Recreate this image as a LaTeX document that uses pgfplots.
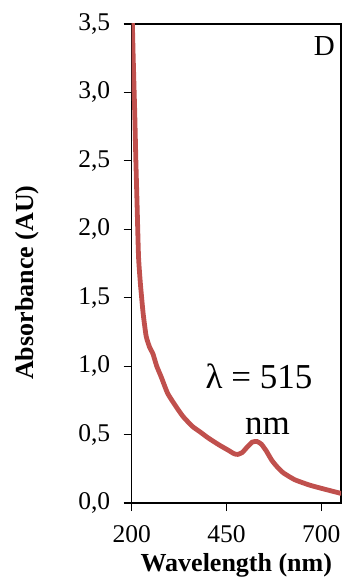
\documentclass[border=0pt]{standalone}
\usepackage{pgfplots}
\pgfplotsset{compat=1.18}
\usepackage{fontspec}
\setmainfont{Liberation Serif}
\definecolor{exred}{RGB}{192,80,77}
\begin{document}
\begin{tikzpicture}
\begin{axis}[
  scale only axis,
  width=209.3pt, height=479pt,
  xmin=200, xmax=752, ymin=0, ymax=3.5,
  xtick={200,450,700}, ytick={0,0.5,...,3.5},
  tick align=outside, major tick length=8pt,
  xtick pos=bottom, ytick pos=left,
  axis line style={line width=1.2pt},
  every tick/.style={black, line width=1.2pt},
  /pgf/number format/assume math mode=true,
  yticklabel style={/pgf/number format/.cd, fixed, fixed zerofill, precision=1, use comma, /tikz/.cd, xshift=-10pt},
  xticklabel style={/pgf/number format/.cd, fixed, precision=0, 1000 sep={}, /tikz/.cd, yshift=-11pt},
  tick label style={font=\fontsize{25.5}{30}\selectfont},
  xlabel={\textbf{Wavelength (nm)}},
  ylabel={\textbf{Absorbance (AU)}},
  xlabel style={font=\fontsize{26}{30}\selectfont, at={(axis description cs:0.5,-0.13)}, anchor=center},
  ylabel style={font=\fontsize{26}{30}\selectfont, at={(axis description cs:-0.5,0.46)}, anchor=center, rotate=0},
  clip=true,
]
\addplot[exred, line width=4.8pt, line join=round, line cap=round, smooth, tension=0.3] coordinates {
(201,3.6)(204,3.25)(208,2.85)(211,2.5)(214,2.2)(218,1.8)(223,1.6)(230,1.39)(238,1.22)(247,1.14)(256,1.09)(266,1.0)(278,0.92)(295,0.80)(318,0.70)(336,0.63)(360,0.56)(380,0.52)(402,0.475)(430,0.425)(455,0.385)(470,0.36)(480,0.355)(492,0.37)(505,0.41)(518,0.445)(530,0.45)(542,0.43)(555,0.38)(570,0.31)(585,0.26)(600,0.22)(630,0.17)(670,0.13)(710,0.10)(752,0.07)
};
\node[anchor=base, inner sep=0pt, font=\fontsize{35}{40}\selectfont] at (axis cs:536,0.84) {λ = 515};
\node[anchor=base, inner sep=0pt, font=\fontsize{35}{40}\selectfont] at (axis cs:558,0.497) {nm};
\node[anchor=north east, inner sep=0pt, font=\fontsize{29}{34}\selectfont] at ([xshift=-6pt,yshift=-12pt]rel axis cs:1,1) {D};
\end{axis}
\pgfresetboundingbox
\path[use as bounding box] (-131.7pt,-75pt) rectangle (211.3pt,503pt);
\end{tikzpicture}
\end{document}
